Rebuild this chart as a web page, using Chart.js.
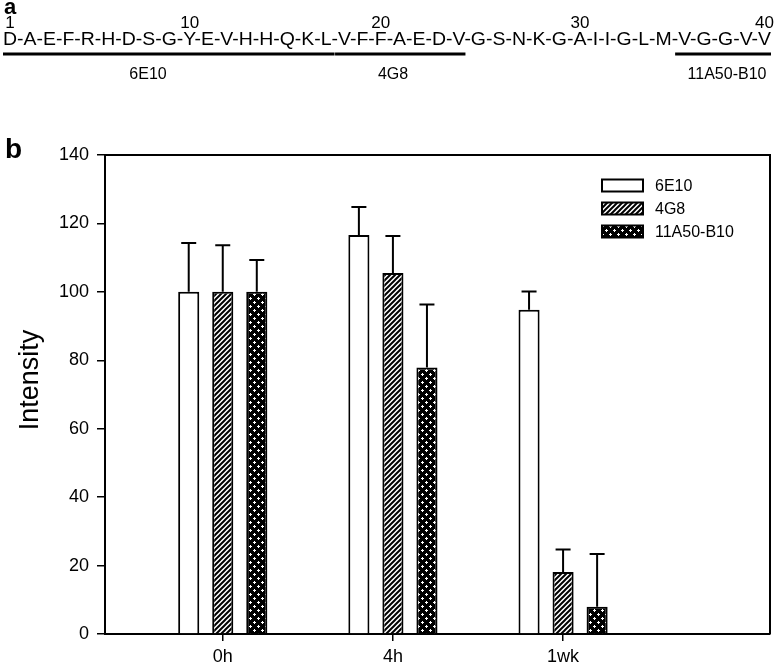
<!DOCTYPE html>
<html><head><meta charset="utf-8">
<script src="https://cdn.jsdelivr.net/npm/chart.js@4.4.0/dist/chart.umd.min.js"></script>
<style>html,body{margin:0;padding:0;background:#fff;}canvas{display:block}</style>
</head><body>
<canvas id="c" width="774" height="672"></canvas>
<script>
// ---- data ----
const categories = ['0h', '4h', '1wk'];
const seriesNames = ['6E10', '4G8', '11A50-B10'];
const values6E10 = [100, 116.6, 94.8];
const values4G8 = [100, 105.5, 18.1];
const values11A50 = [100, 77.9, 8.0];
const err6E10 = [14.3, 8.2, 5.3];
const err4G8 = [13.6, 10.8, 6.6];
const err11A50 = [9.3, 18.4, 15.4];
const yTicks = [0, 20, 40, 60, 80, 100, 120, 140];
const sequence = ['D','A','E','F','R','H','D','S','G','Y','E','V','H','H','Q','K','L','V','F','F','A','E','D','V','G','S','N','K','G','A','I','I','G','L','M','V','G','G','V','V'];
const seqNumbers = [1, 10, 20, 30, 40];
const epitopeNames = ['6E10', '4G8', '11A50-B10'];
const epitopeFrom = [1, 18, 36];
const epitopeTo = [17, 24, 40];

const FONT = '"Liberation Sans", Arial, sans-serif';
const ctx0 = document.getElementById('c').getContext('2d');

function hatchPattern() {
  const c = document.createElement('canvas'); c.width = 5; c.height = 5;
  const g = c.getContext('2d');
  g.fillStyle = '#fff'; g.fillRect(0, 0, 5, 5);
  g.strokeStyle = '#000'; g.lineWidth = 2;
  g.beginPath();
  g.moveTo(-2.5, 2.5); g.lineTo(2.5, -2.5);
  g.moveTo(0, 5); g.lineTo(5, 0);
  g.moveTo(2.5, 7.5); g.lineTo(7.5, 2.5);
  g.stroke();
  return ctx0.createPattern(c, 'repeat');
}
function crossPattern() {
  const c = document.createElement('canvas'); c.width = 8; c.height = 8;
  const g = c.getContext('2d');
  g.fillStyle = '#000'; g.fillRect(0, 0, 8, 8);
  g.fillStyle = '#fff';
  [[2, 2], [6, 6]].forEach(([x, y]) => {
    g.fillRect(x - 1, y, 3, 1); g.fillRect(x, y - 1, 1, 3);
  });
  return ctx0.createPattern(c, 'repeat');
}
const fills = ['#ffffff', hatchPattern(), crossPattern()];
const allValues = [values6E10, values4G8, values11A50];
const allErrors = [err6E10, err4G8, err11A50];

const datasets = seriesNames.map((name, s) => ({
  label: name,
  data: categories.map((c, i) => ({ x: i, y: allValues[s][i] })),
  errors: allErrors[s],
  backgroundColor: fills[s],
  borderColor: '#000',
  borderWidth: 2,
  borderSkipped: 'start',
  categoryPercentage: 0.6,
  barPercentage: 0.62
}));

const errorBars = {
  id: 'errorBars',
  afterDatasetsDraw(chart) {
    const ctx = chart.ctx, ys = chart.scales.y;
    ctx.save();
    ctx.strokeStyle = '#000'; ctx.lineWidth = 2;
    chart.data.datasets.forEach((ds, di) => {
      const meta = chart.getDatasetMeta(di);
      meta.data.forEach((bar, i) => {
        const v = ds.data[i].y, e = ds.errors[i];
        const yt = ys.getPixelForValue(v + e);
        ctx.beginPath();
        ctx.moveTo(bar.x, bar.y); ctx.lineTo(bar.x, yt);
        ctx.moveTo(bar.x - 7.5, yt); ctx.lineTo(bar.x + 7.5, yt);
        ctx.stroke();
      });
    });
    ctx.restore();
  }
};

const decor = {
  id: 'decor',
  afterDraw(chart) {
    const ctx = chart.ctx, a = chart.chartArea;
    ctx.save();
    // frame top & right
    ctx.strokeStyle = '#000'; ctx.lineWidth = 2;
    ctx.beginPath();
    ctx.moveTo(a.left, a.top); ctx.lineTo(a.right, a.top); ctx.lineTo(a.right, a.bottom);
    ctx.stroke();
    // legend
    ctx.font = '16px ' + FONT; ctx.textBaseline = 'middle'; ctx.textAlign = 'left';
    chart.data.datasets.forEach((ds, i) => {
      const cy = 185.5 + i * 23;
      ctx.fillStyle = ds.backgroundColor;
      ctx.fillRect(602, cy - 6, 41, 12);
      ctx.lineWidth = 2; ctx.strokeStyle = '#000';
      ctx.strokeRect(602, cy - 6, 41, 12);
      ctx.fillStyle = '#000';
      ctx.fillText(ds.label, 655, cy + 1);
    });
    // y title
    ctx.save();
    ctx.translate(31, 380); ctx.rotate(-Math.PI / 2);
    ctx.font = '27px ' + FONT; ctx.textAlign = 'center'; ctx.textBaseline = 'middle';
    ctx.fillText('Intensity', 0, 0);
    ctx.restore();
    // panel labels
    ctx.font = 'bold 28px ' + FONT; ctx.textAlign = 'left'; ctx.textBaseline = 'alphabetic';
    ctx.fillText('b', 5, 158);
    ctx.font = 'bold 22px ' + FONT;
    ctx.fillText('a', 4, 14);
    // sequence
    const seqStr = sequence.join('-');
    ctx.font = '18px ' + FONT;
    const W = ctx.measureText(seqStr).width;
    const x0 = 3, x1 = 771, sx = (x1 - x0) / W;
    const centers = [], lefts = [], rights = [];
    sequence.forEach((r, i) => {
      const pre = ctx.measureText(sequence.slice(0, i).join('-') + (i ? '-' : '')).width;
      const w = ctx.measureText(r).width;
      lefts.push(x0 + pre * sx); rights.push(x0 + (pre + w) * sx);
      centers.push(x0 + (pre + w / 2) * sx);
    });
    ctx.save();
    ctx.translate(x0, 0); ctx.scale(sx, 1);
    ctx.textBaseline = 'alphabetic'; ctx.textAlign = 'left';
    ctx.fillText(seqStr, 0, 45);
    ctx.restore();
    ctx.font = '17px ' + FONT;
    ctx.textAlign = 'center';
    seqNumbers.forEach(n => ctx.fillText(String(n), centers[n - 1], 28));
    const labelX = [148, 393, 727];
    ctx.lineWidth = 3;
    epitopeNames.forEach((nm, k) => {
      const f = epitopeFrom[k] - 1, t = epitopeTo[k] - 1;
      const xa = k === 0 ? lefts[f] : lefts[f] - 3;
      const xb = k === 0 ? rights[t] + 3 : rights[t];
      ctx.beginPath(); ctx.moveTo(xa, 54); ctx.lineTo(xb, 54); ctx.stroke();
      ctx.font = '16px ' + FONT;
      ctx.fillText(nm, labelX[k], 79);
    });
    ctx.restore();
  }
};

new Chart(ctx0, {
  type: 'bar',
  data: { datasets },
  plugins: [errorBars, decor],
  options: {
    responsive: false, animation: false, devicePixelRatio: 1,
    layout: { padding: { top: 155, right: 4, left: 0, bottom: 0 } },
    plugins: { legend: { display: false }, tooltip: { enabled: false } },
    scales: {
      x: {
        type: 'linear', min: -0.692, max: 3.216, offset: false,
        afterBuildTicks(s) { s.ticks = categories.map((c, i) => ({ value: i })); },
        afterFit(s) { s.height = 38; },
        ticks: { callback: v => categories[v], color: '#000', font: { family: FONT, size: 18 }, padding: 5, maxRotation: 0 },
        grid: { offset: false, drawOnChartArea: false, tickLength: 7, color: '#000', lineWidth: 1.5 },
        border: { color: '#000', width: 2 }
      },
      y: {
        min: 0, max: 140,
        afterBuildTicks(s) { s.ticks = yTicks.map(v => ({ value: v })); },
        afterFit(s) { s.width = 105; },
        ticks: { color: '#000', font: { family: FONT, size: 18 }, padding: 8 },
        grid: { drawOnChartArea: false, tickLength: 8, color: '#000', lineWidth: 1.5 },
        border: { color: '#000', width: 2 }
      }
    }
  }
});
</script>
</body></html>
